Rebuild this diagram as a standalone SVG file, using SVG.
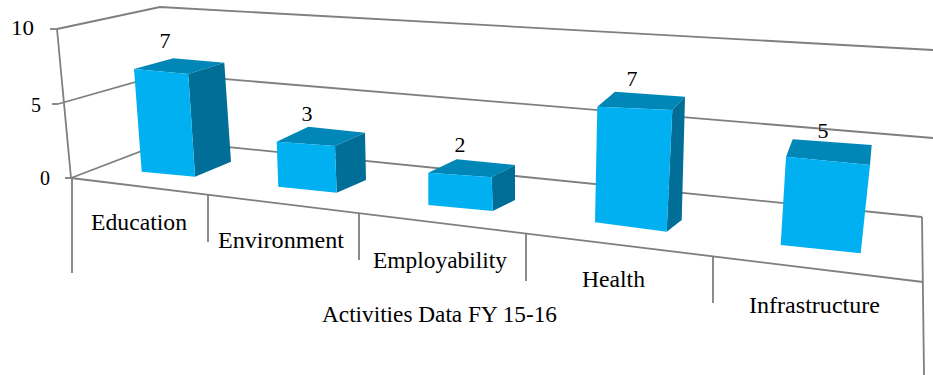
<svg xmlns="http://www.w3.org/2000/svg" width="933" height="375" viewBox="0 0 933 375">
<style>
.g{stroke:#7f7f7f;stroke-width:1.8;fill:none;stroke-linecap:butt}
.front{fill:#00B0F0}
.top{fill:#0087B8}
.side{fill:#006E97}
.ax{font-size:20px;text-anchor:end}
.val{font-size:22px;text-anchor:middle}
.cat{font-size:23.5px;text-anchor:middle}
</style>
<rect width="933" height="375" fill="#fff"/>
<g id="connectors">
<polyline class="g" points="57,29 160,7 933,50"/>
<polyline class="g" points="58,104 164,74 933,138"/>
<polyline class="g" points="71,178 168,141 922,217"/>
<line class="g" x1="57" y1="29" x2="71" y2="178"/>
<line class="g" x1="71" y1="178" x2="923" y2="282"/>
<line class="g" x1="922" y1="217" x2="924" y2="375"/>
<line class="g" x1="50" y1="29" x2="57" y2="29"/>
<line class="g" x1="52" y1="104" x2="58" y2="104"/>
<line class="g" x1="65" y1="178" x2="71" y2="178"/>
<line class="g" x1="72" y1="178" x2="72" y2="273"/>
<line class="g" x1="208" y1="195" x2="208" y2="242"/>
<line class="g" x1="359" y1="213" x2="359" y2="260"/>
<line class="g" x1="526" y1="234" x2="526" y2="281"/>
<line class="g" x1="713" y1="256" x2="713" y2="303"/>
</g>
<g id="bar-education">
<polygon class="top" points="134,69 173.3,58.3 224.3,62.7 188.3,74"/>
<polygon class="side" points="188.3,74 224.3,62.7 231,161.7 195,176.7"/>
<polygon class="front" points="134,69 188.3,74 195,176.7 141.7,171.7"/>
</g>
<g id="bar-environment">
<polygon class="top" points="276.7,141.7 308.3,126.7 365,132.7 335,146"/>
<polygon class="side" points="335,146 365,132.7 366,180 336.7,192.7"/>
<polygon class="front" points="276.7,141.7 335,146 336.7,192.7 278.3,186.7"/>
</g>
<g id="bar-employability">
<polygon class="top" points="428.3,172.7 456.7,159.3 515,165 491.7,177.3"/>
<polygon class="side" points="491.7,177.3 515,165 515,200 492.7,211"/>
<polygon class="front" points="428.3,172.7 491.7,177.3 492.7,211 428.3,205"/>
</g>
<g id="bar-health">
<polygon class="top" points="597.3,106.7 615,91.7 685,96.7 672.3,110"/>
<polygon class="side" points="672.3,110 685,96.7 681.7,220 666.7,231.7"/>
<polygon class="front" points="597.3,106.7 672.3,110 666.7,231.7 595,222.3"/>
</g>
<g id="bar-infrastructure">
<polygon class="top" points="786,156.7 792.7,139.3 871.7,145 870,165"/>
<polygon class="front" points="786,156.7 870,165 860.7,253.3 780.7,245"/>
</g>
<g font-family="Liberation Serif, Times New Roman, serif" fill="#000">
<g id="axis-labels">
<text class="ax" x="34" y="35" textLength="23" lengthAdjust="spacingAndGlyphs">10</text>
<text class="ax" x="41" y="112">5</text>
<text class="ax" x="50" y="185">0</text>
</g>
<g id="value-labels">
<text class="val" x="165" y="48">7</text>
<text class="val" x="307" y="121">3</text>
<text class="val" x="460" y="152">2</text>
<text class="val" x="632" y="86">7</text>
<text class="val" x="823" y="138">5</text>
</g>
<g id="category-labels">
<text class="cat" x="139" y="230" textLength="96" lengthAdjust="spacingAndGlyphs">Education</text>
<text class="cat" x="281" y="248" textLength="126" lengthAdjust="spacingAndGlyphs">Environment</text>
<text class="cat" x="440" y="268" textLength="134" lengthAdjust="spacingAndGlyphs">Employability</text>
<text class="cat" x="613.5" y="287" textLength="63" lengthAdjust="spacingAndGlyphs">Health</text>
<text class="cat" x="814.5" y="313" textLength="131" lengthAdjust="spacingAndGlyphs">Infrastructure</text>
<text class="cat" x="439.5" y="322" textLength="235" lengthAdjust="spacingAndGlyphs">Activities Data FY 15-16</text>
</g>
</g>
</svg>
